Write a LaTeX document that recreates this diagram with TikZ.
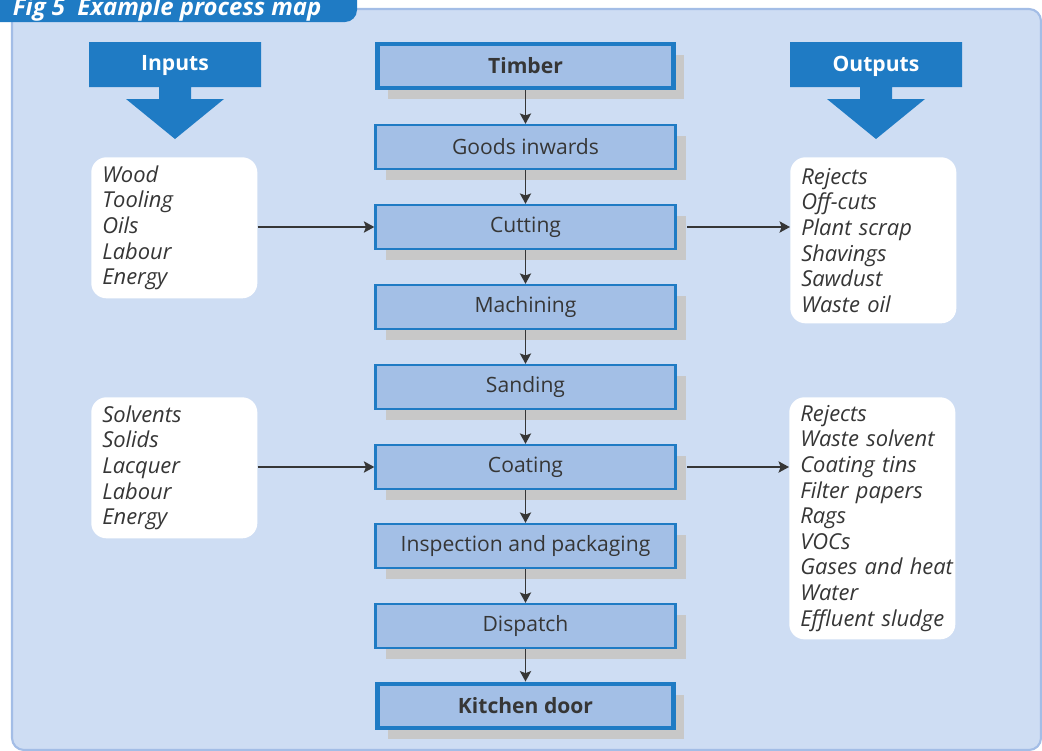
\documentclass[tikz,border=0pt]{standalone}
\usepackage{fontspec}
\setmainfont{Open Sans}
\usetikzlibrary{arrows.meta,shadows}

\definecolor{panelfill}{HTML}{CEDDF3}
\definecolor{panelline}{HTML}{A3BDE6}
\definecolor{boxfill}{HTML}{A3BFE6}
\definecolor{boxblue}{HTML}{1F7BC4}
\definecolor{shadowgray}{HTML}{C8C8C8}
\definecolor{textgray}{HTML}{363636}

\tikzset{
	stage/.style={draw=boxblue, fill=boxfill, line width=1.6pt, minimum width=7.5cm, minimum height=1.1cm,
		text=textgray, font=\fontsize{15}{18}\selectfont,
		drop shadow={shadow xshift=0.27cm, shadow yshift=-0.27cm, fill=shadowgray, opacity=1}},
	endstage/.style={stage, line width=3.5pt, minimum width=7.4cm, minimum height=1.1cm, font=\fontsize{15}{18}\selectfont\bfseries},
	listbox/.style={fill=white, rounded corners=0.38cm, anchor=north west, align=left, text width=3.6cm,
		inner xsep=0.275cm, minimum width=4.15cm, text=textgray, font=\fontsize{15.6}{18.2}\selectfont\itshape},
	headlabel/.style={text=white, font=\fontsize{15}{18}\selectfont\bfseries},
	flow/.style={draw=textgray, line width=1.3pt, -{Stealth[length=0.26cm, width=0.28cm, inset=0.05cm]}}
}

\begin{document}
\begin{tikzpicture}[x=0.025cm, y=-0.025cm]
	\useasboundingbox (0,0) rectangle (1042,751);
	\clip (0,0) rectangle (1042,751);
	
	% panel and title tab
	\draw [panelline, fill=panelfill, line width=1.5pt, rounded corners=0.3cm] (12,9) rectangle (1041,750);
	\fill [boxblue, rounded corners=0.3cm] (-20,-20) -- (357,-20) -- (357,22) -- (-20,22) -- cycle;
	\node [anchor=base west, text=white, font=\fontsize{17}{20}\selectfont\bfseries\itshape] (title) at (8,15) {Fig 5\ \ Example process map};
	
	% big arrows
	\foreach \cx/\lbl/\nm in {175/Inputs/inhead, 876/Outputs/outhead} {
		\fill [boxblue] (\cx-86,42) -- ++(172,0) -- ++(0,45) -- ++(-70,0) -- ++(0,12) -- ++(33,0)
			-- ++(-49,40) -- ++(-49,-40) -- ++(33,0) -- ++(0,-12) -- ++(-70,0) -- cycle;
		\node [headlabel] (\nm) at (\cx,66) {\lbl};
	}
	
	% process stages
	\node [endstage] (timber)   at (525.5,66)  {Timber};
	\node [stage]    (goods)    at (525.5,147) {Goods inwards};
	\node [stage]    (cut)      at (525.5,227) {Cutting};
	\node [stage]    (mach)     at (525.5,307) {Machining};
	\node [stage]    (sand)     at (525.5,387) {Sanding};
	\node [stage]    (coat)     at (525.5,467) {Coating};
	\node [stage]    (insp)     at (525.5,546) {Inspection and packaging};
	\node [stage]    (disp)     at (525.5,626) {Dispatch};
	\node [endstage] (door)     at (525.5,706) {Kitchen door};
	
	\foreach \a/\b in {timber/goods, goods/cut, cut/mach, mach/sand, sand/coat, coat/insp, insp/disp, disp/door}
		\draw [flow] (\a) -- (\b);
	
	% inputs and outputs
	\node [listbox, minimum height=3.525cm] (inA)  at (91,157)  {Wood\\Tooling\\Oils\\Labour\\Energy};
	\node [listbox, minimum height=3.525cm] (inB)  at (91,397)  {Solvents\\Solids\\Lacquer\\Labour\\Energy};
	\node [listbox, minimum height=4.15cm]  (outA) at (790,157) {Rejects\\Off-cuts\\Plant~scrap\\Shavings\\Sawdust\\Waste~oil};
	\node [listbox, minimum height=6.05cm]  (outB) at (789,397) {Rejects\\Waste~solvent\\Coating~tins\\Filter~papers\\Rags\\VOCs\\Gases~and~heat\\Water\\Effluent~sludge};
	
	\draw [flow] (inA.east |- cut) -- (cut);
	\draw [flow] (inB.east |- coat) -- (coat);
	\draw [flow, shorten <=0.27cm] (cut) -- (cut -| outA.west);
	\draw [flow, shorten <=0.27cm] (coat) -- (coat -| outB.west);
	
\end{tikzpicture}
\end{document}
